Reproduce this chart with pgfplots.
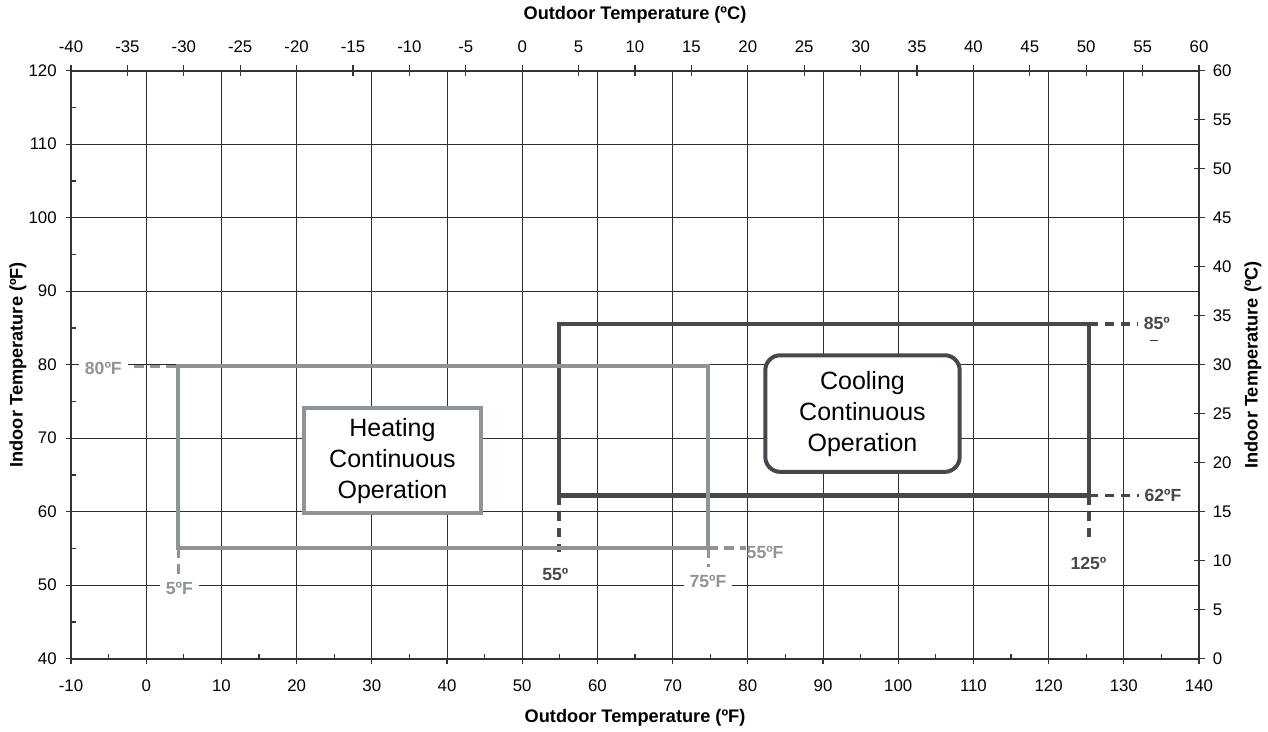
\documentclass[border=0pt]{standalone}
\usepackage{fontspec}
\setmainfont{Liberation Sans}
\usepackage{pgfplots}
\pgfplotsset{compat=1.18}
\definecolor{heat}{HTML}{8E9497}
\definecolor{cool}{HTML}{46494C}
\definecolor{gridc}{HTML}{2E2E2E}
\definecolor{axc}{HTML}{333333}
\tikzset{lab/.style={font=\bfseries\fontsize{8.8}{10}\selectfont, fill=white, inner xsep=3pt, inner ysep=1pt}}
\begin{document}
\begin{tikzpicture}
\path[use as bounding box] (-35.5pt,-36.5pt) rectangle (598.5pt,329.35pt);
\pgfplotsset{
  common/.style={scale only axis, width=564pt, height=294pt, at={(0pt,0pt)}, anchor=south west,
    axis line style={axc, line width=1.1pt},
    /pgf/number format/assume math mode=true,
    tick style={axc, line width=0.6pt},
    ticklabel style={font=\fontsize{8.4}{10}\selectfont, inner sep=0pt},
    label style={font=\bfseries\fontsize{9.1}{11}\selectfont},
  },
}
% minor inward ticks
\begin{axis}[common, xmin=-10,xmax=140,ymin=40,ymax=120,
  xtick={-5,5,...,135}, ytick={45,55,...,115}, tick pos=left, tick align=inside,
  major tick length=2.5pt, xticklabels={,,}, yticklabels={,,}]
\end{axis}
% main Fahrenheit axis
\begin{axis}[common, xmin=-10,xmax=140,ymin=40,ymax=120,
  xtick={-10,0,...,140}, ytick={40,50,...,120},
  tick pos=left, tick align=outside, major tick length=2.5pt,
  grid=major, major grid style={gridc, line width=0.5pt},
  xticklabel style={anchor=north, yshift=-8pt},
  yticklabel style={anchor=east, xshift=-4.5pt},
  xlabel={Outdoor Temperature (ºF)}, ylabel={Indoor Temperature (ºF)},
  xlabel style={at={(axis description cs:0.5,0)}, anchor=center, yshift=-29.5pt},
  ylabel style={at={(axis description cs:0,0.5)}, anchor=center, yshift=26.5pt},
]
% cooling region
\addplot[cool, line width=2.1pt] coordinates {(54.9,62.2) (125.4,62.2) (125.4,85.5) (54.9,85.5)} -- cycle;
\addplot[cool, line width=1.8pt, dash pattern=on 4.5pt off 3.5pt] coordinates {(54.9,62.2) (54.9,54.45)};
\addplot[cool, line width=1.8pt, dash pattern=on 4.5pt off 3.5pt] coordinates {(125.4,62.2) (125.4,55.95)};
\addplot[cool, line width=1.8pt, dash pattern=on 4.5pt off 3.5pt] coordinates {(125.4,85.5) (131.9,85.5)};
\addplot[cool, line width=1.8pt, dash pattern=on 4.5pt off 3.5pt] coordinates {(125.4,62.2) (132.0,62.2)};
\addplot[cool, line width=0.5pt] coordinates {(133.5,83.25) (134.6,83.25)};
% heating region
\addplot[heat, line width=2pt] coordinates {(4.27,55.05) (74.75,55.05) (74.75,79.8) (4.27,79.8)} -- cycle;
\addplot[heat, line width=1.6pt, dash pattern=on 5pt off 3pt] coordinates {(-1.6,79.8) (4.27,79.8)};
\addplot[heat, line width=1.6pt, dash pattern=on 5pt off 3pt] coordinates {(4.27,55.05) (4.27,51.4)};
\addplot[heat, line width=1.6pt, dash pattern=on 5pt off 3pt] coordinates {(74.75,55.05) (74.75,52.5)};
\addplot[heat, line width=1.6pt, dash pattern=on 5pt off 3pt] coordinates {(74.75,55.05) (79.7,55.05)};
% labels
\node[lab, text=heat] at (axis cs:-5.7,79.5) {80ºF};
\node[lab, text=heat] at (axis cs:4.4,49.5) {5ºF};
\node[lab, text=heat] at (axis cs:74.7,50.5) {75ºF};
\node[lab, text=heat, fill=none] at (axis cs:82.3,54.45) {55ºF};
\node[lab, text=cool] at (axis cs:54.4,51.5) {55º};
\node[lab, text=cool, fill=none] at (axis cs:125.3,53.0) {125º};
\node[lab, text=cool, fill=none, inner xsep=0pt] at (axis cs:134.4,85.6) {85º};
\node[lab, text=cool, fill=none, inner xsep=0pt] at (axis cs:135.2,62.2) {62ºF};
\node[draw=heat, line width=2pt, fill=white, minimum width=88.8pt, minimum height=52.2pt,
  align=center, font=\fontsize{12.5}{15.5}\selectfont] at (axis cs:32.75,66.95) {Heating\\Continuous\\Operation};
\node[draw=cool, line width=2pt, fill=white, rounded corners=7.5pt, minimum width=97.2pt, minimum height=58.3pt,
  align=center, font=\fontsize{12.5}{15.5}\selectfont] at (axis cs:95.25,73.35) {Cooling\\Continuous\\Operation};
\end{axis}
% Celsius axes (top and right)
\begin{axis}[common, xmin=-40,xmax=60,ymin=0,ymax=60,
  xtick={-40,-35,...,60}, ytick={0,5,...,60},
  tick pos=right, ticklabel pos=right, tick align=center, major tick length=5.5pt,
  xticklabel style={anchor=south, yshift=6pt},
  yticklabel style={anchor=west, xshift=4pt},
  xlabel={Outdoor Temperature (ºC)}, ylabel={Indoor Temperature (ºC)},
  xlabel style={at={(axis description cs:0.5,1)}, anchor=center, yshift=27.85pt},
  ylabel style={at={(axis description cs:1,0.5)}, anchor=center, yshift=-27pt},
]
\end{axis}
\end{tikzpicture}
\end{document}
